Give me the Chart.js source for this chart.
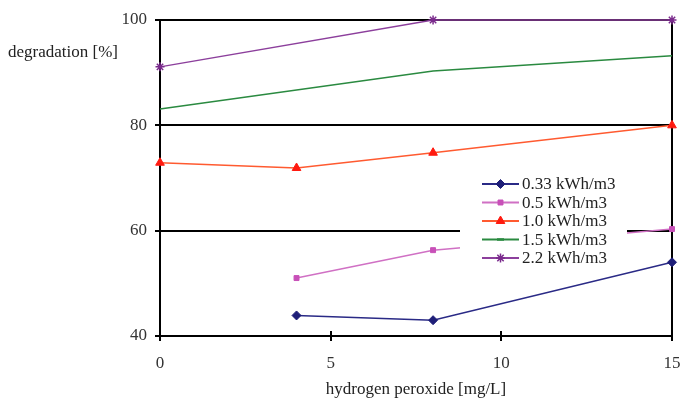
<!DOCTYPE html>
<html>
<head>
    <title>Degradation vs hydrogen peroxide</title>
    <script src="https://cdn.jsdelivr.net/npm/chart.js"></script>
    <style>
        html, body { margin: 0; padding: 0; background: white; }
        #wrap { width: 680px; height: 402px; }
    </style>
</head>
<body>
    <div id="wrap"><canvas id="chart" width="680" height="402"></canvas></div>

    <script>
        // Data
        const peroxide = [0, 4, 8, 15];
        const labels = ['0.33 kWh/m3', '0.5 kWh/m3', '1.0 kWh/m3', '1.5 kWh/m3', '2.2 kWh/m3'];
        const deg033 = [null, 43.9, 43.0, 54.0];
        const deg05 = [null, 51.0, 56.3, 60.3];
        const deg10 = [72.9, 71.9, 74.8, 80.0];
        const deg15 = [83.1, null, 90.3, 93.2];
        const deg22 = [91.1, null, 100, 100];
        const xTicks = [0, 5, 10, 15];
        const yTicks = [40, 60, 80, 100];

        const FONT = "'Liberation Serif', 'DejaVu Serif', serif";

        const toPoints = arr => peroxide
            .map((x, i) => ({ x: x, y: arr[i] }))
            .filter(p => p.y !== null);

        const styles = [
            { line: '#2a2a86', fill: '#1e1e78', shape: 'rectRot', r: 4.5 },
            { line: '#d070c4', fill: '#c850b8', shape: 'rect', r: 3.5 },
            { line: '#ff5a30', fill: '#ff1a10', shape: 'triangle', r: 5 },
            { line: '#2a8a40', fill: '#2a8a40', shape: 'line', r: 0 },
            { line: '#8c3f9c', fill: '#7a2a8c', shape: 'star', r: 4.5 }
        ];
        const series = [deg033, deg05, deg10, deg15, deg22];

        const datasets = series.map((s, i) => ({
            label: labels[i],
            data: toPoints(s),
            borderColor: styles[i].line,
            backgroundColor: styles[i].fill,
            pointBorderColor: styles[i].fill,
            pointBackgroundColor: styles[i].fill,
            pointStyle: styles[i].shape,
            pointRadius: styles[i].r,
            pointBorderWidth: styles[i].shape === 'star' ? 1.5 : 1,
            borderWidth: 1.5,
            tension: 0,
            spanGaps: true,
            clip: false
        }));

        // titles, crossing x ticks and the boxed legend
        const extras = {
            id: 'extras',
            afterDraw(chart) {
                const ctx = chart.ctx;
                const xs = chart.scales.x;
                const area = chart.chartArea;
                ctx.save();

                // x ticks crossing the axis
                ctx.strokeStyle = '#000';
                ctx.lineWidth = 2;
                xTicks.slice(1, -1).forEach(v => {
                    const px = Math.round(xs.getPixelForValue(v));
                    ctx.beginPath();
                    ctx.moveTo(px, area.bottom - 5);
                    ctx.lineTo(px, area.bottom + 5);
                    ctx.stroke();
                });

                ctx.fillStyle = '#222';
                ctx.font = '17px ' + FONT;
                ctx.textBaseline = 'middle';
                ctx.textAlign = 'left';
                ctx.fillText('degradation [%]', 8, 53);
                ctx.textAlign = 'center';
                ctx.fillText('hydrogen peroxide [mg/L]', 416, 390);

                // legend
                const lx = 460, ly = 173, lw = 167, lh = 96, row = 18.5;
                ctx.fillStyle = '#fff';
                ctx.fillRect(lx, ly, lw, lh);
                chart.data.datasets.forEach((ds, i) => {
                    const cy = 184 + i * row;
                    ctx.strokeStyle = ds.borderColor;
                    ctx.lineWidth = 2;
                    ctx.beginPath();
                    ctx.moveTo(482, cy);
                    ctx.lineTo(519, cy);
                    ctx.stroke();
                    const st = styles[i];
                    ctx.fillStyle = st.fill;
                    ctx.strokeStyle = st.fill;
                    if (st.shape === 'line') {
                        ctx.lineWidth = 2.5;
                        ctx.beginPath();
                        ctx.moveTo(497, cy);
                        ctx.lineTo(504, cy);
                        ctx.stroke();
                    } else {
                        ctx.lineWidth = st.shape === 'star' ? 1.5 : 1;
                        Chart.helpers.drawPoint(ctx, {
                            pointStyle: st.shape,
                            radius: st.r,
                            borderWidth: ctx.lineWidth
                        }, 500.5, cy);
                    }
                    ctx.fillStyle = '#222';
                    ctx.textAlign = 'left';
                    ctx.font = '17px ' + FONT;
                    ctx.fillText(ds.label, 522, cy + 1);
                });
                ctx.restore();
            }
        };

        new Chart(document.getElementById('chart'), {
            type: 'line',
            data: { datasets },
            options: {
                responsive: false,
                animation: false,
                layout: { padding: { left: 0, right: 8, top: 20, bottom: 0 } },
                plugins: {
                    legend: { display: false },
                    tooltip: { enabled: false }
                },
                scales: {
                    x: {
                        type: 'linear',
                        min: xTicks[0],
                        max: xTicks[xTicks.length - 1],
                        afterBuildTicks: s => { s.ticks = xTicks.map(v => ({ value: v })); },
                        afterFit: s => {
                            s.height = 66;
                            s.paddingLeft = 0;
                            s.paddingRight = 0;
                        },
                        border: { color: '#000', width: 2 },
                        grid: {
                            drawOnChartArea: true,
                            color: c => (c.tick && c.tick.value === 15) ? '#000' : 'rgba(0,0,0,0)',
                            lineWidth: 2,
                            tickColor: '#000',
                            tickLength: 5
                        },
                        ticks: {
                            color: '#333',
                            font: { family: FONT, size: 17 },
                            padding: 12
                        }
                    },
                    y: {
                        min: yTicks[0],
                        max: yTicks[yTicks.length - 1],
                        afterBuildTicks: s => { s.ticks = yTicks.map(v => ({ value: v })); },
                        afterFit: s => {
                            s.width = 160;
                            s.paddingTop = 0;
                            s.paddingBottom = 0;
                        },
                        border: { color: '#000', width: 2 },
                        grid: {
                            color: '#000',
                            lineWidth: 2,
                            tickColor: '#000',
                            tickLength: 5
                        },
                        ticks: {
                            color: '#333',
                            font: { family: FONT, size: 17 },
                            padding: 8
                        }
                    }
                }
            },
            plugins: [extras]
        });
    </script>
</body>
</html>
